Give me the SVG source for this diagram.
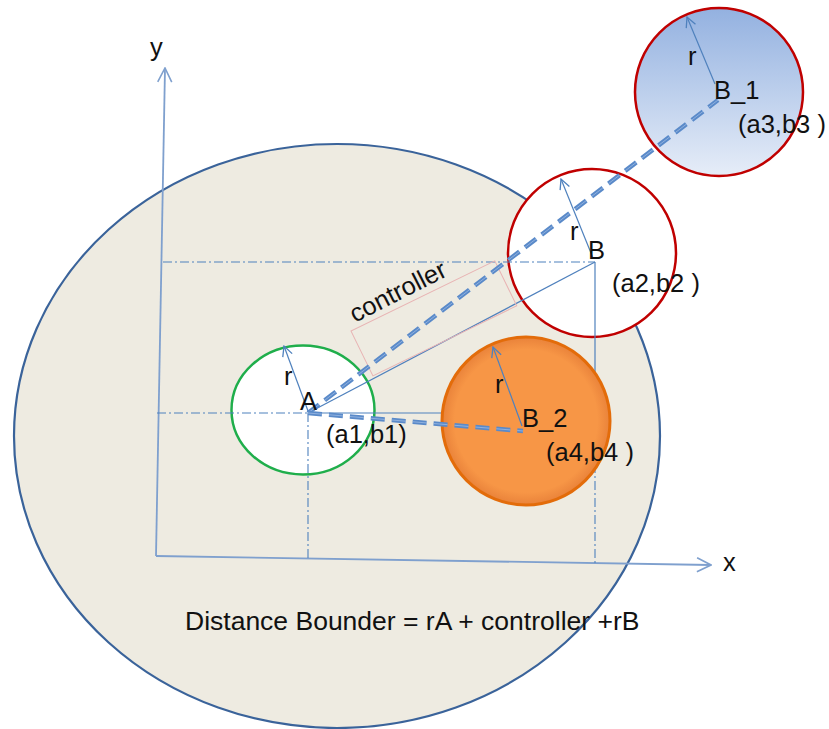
<svg xmlns="http://www.w3.org/2000/svg" width="829" height="729" viewBox="0 0 829 729">
<style>
text{font-family:"Liberation Sans",Arial,sans-serif;font-size:25.5px;fill:#111}
.thin{stroke:#4F81BD;stroke-width:1.2;fill:none}
.dd{stroke:#4F81BD;stroke-width:1.1;fill:none;stroke-dasharray:9 3 2 3}
.axis{stroke:#7FA0CE;stroke-width:1.8;fill:none}
.dash{stroke:#5A8AC9;stroke-width:4.5;fill:none;stroke-dasharray:14 7}
.dashhi{stroke:#9DBAE3;stroke-width:0.8;fill:none;stroke-dasharray:14 7}
.rad{stroke:#4F81BD;stroke-width:1.2;fill:none;marker-end:url(#open)}
</style>
<defs>
<marker id="open" viewBox="0 0 12 12" refX="11" refY="6" markerWidth="12" markerHeight="12" markerUnits="userSpaceOnUse" orient="auto">
<path d="M1,1 L11,6 L1,11" fill="none" stroke="#4F81BD" stroke-width="1.3"/>
</marker>
<marker id="openAx" viewBox="0 0 16 16" refX="15" refY="8" markerWidth="16" markerHeight="16" markerUnits="userSpaceOnUse" orient="auto">
<path d="M1,1 L15,8 L1,15" fill="none" stroke="#7FA0CE" stroke-width="1.6"/>
</marker>
<linearGradient id="blueG" x1="0" y1="0" x2="0" y2="1">
<stop offset="0" stop-color="#93B1E0"/>
<stop offset="1" stop-color="#E6EDF8"/>
</linearGradient>
<radialGradient id="orG" cx="0.5" cy="0.5" r="0.5">
<stop offset="0" stop-color="#F79646"/>
<stop offset="0.85" stop-color="#F79646"/>
<stop offset="1" stop-color="#E9823A"/>
</radialGradient>
</defs>

<g id="boundary">
<ellipse cx="337" cy="436" rx="323" ry="292" fill="#EEEBE1" stroke="#3A639A" stroke-width="2.2"/>
</g>

<g id="circleA">
<ellipse cx="303" cy="410" rx="71.5" ry="64.5" fill="#FFFFFF" stroke="#1FAE4B" stroke-width="2.5"/>
</g>
<g id="circleB">
<circle cx="592" cy="253" r="84" fill="#FFFFFF" stroke="#C00000" stroke-width="2.5"/>
</g>

<g id="connectors">
<line class="axis" x1="156" y1="556" x2="165" y2="68" marker-end="url(#openAx)"/>
<line class="axis" x1="156" y1="556" x2="711" y2="565" marker-end="url(#openAx)"/>
<line class="dd" x1="163" y1="262" x2="595" y2="262"/>
<line class="dd" x1="157" y1="413" x2="308" y2="413"/>
<line class="dd" x1="308" y1="413" x2="308" y2="558"/>
<line class="dd" x1="595" y1="413" x2="595" y2="565"/>
<line class="thin" x1="595" y1="262" x2="595" y2="413"/>
<line class="thin" x1="308" y1="413" x2="595" y2="413"/>
<line class="thin" x1="308" y1="413" x2="595" y2="262"/>
<rect x="0" y="0" width="160" height="50" fill="none" stroke="#E8B4B4" stroke-width="1" transform="translate(351,331) rotate(-26)"/>
</g>

<g id="circleB2">
<circle cx="526" cy="421" r="84" fill="url(#orG)" stroke="#E36C0A" stroke-width="3"/>
</g>
<g id="circleB1">
<circle cx="719" cy="92" r="84" fill="url(#blueG)" stroke="#C00000" stroke-width="2.5"/>
</g>

<g id="dashed">
<line class="dash" x1="308" y1="413" x2="718" y2="100"/>
<line class="dashhi" x1="308" y1="413" x2="718" y2="100"/>
<line class="dash" x1="308" y1="413" x2="523" y2="431"/>
<line class="dashhi" x1="308" y1="413" x2="523" y2="431"/>
</g>

<g id="radii">
<line class="rad" x1="308" y1="411" x2="284" y2="346"/>
<line class="rad" x1="593" y1="258" x2="561" y2="179"/>
<line class="rad" x1="715" y1="84" x2="687" y2="17"/>
<line class="rad" x1="522" y1="426" x2="493" y2="347"/>
</g>

<g id="labels">
<text x="150" y="56">y</text>
<text x="723" y="571">x</text>
<text x="284" y="385">r</text>
<text x="300" y="410">A</text>
<text x="326" y="443">(a1,b1)</text>
<text x="570" y="240">r</text>
<text x="588" y="259">B</text>
<text x="612" y="292">(a2,b2 )</text>
<text x="688" y="65">r</text>
<text x="714" y="99">B_1</text>
<text x="738" y="133">(a3,b3 )</text>
<text x="495" y="393">r</text>
<text x="522" y="427">B_2</text>
<text x="546" y="461">(a4,b4 )</text>
<text transform="translate(355,323) rotate(-27)">controller</text>
<text x="185" y="630" style="font-size:26.5px">Distance Bounder = rA + controller +rB</text>
</g>
</svg>
